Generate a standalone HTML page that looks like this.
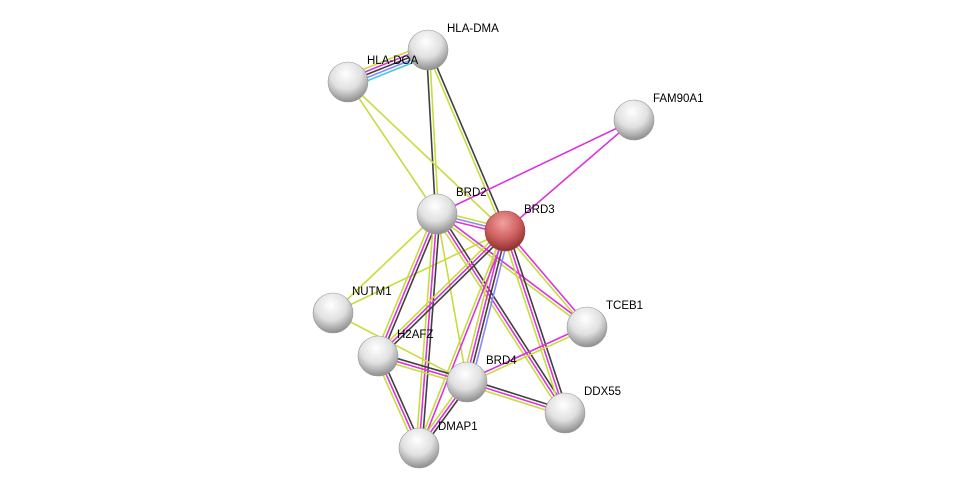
<!DOCTYPE html>
<html><head><meta charset="utf-8"><style>
html,body{margin:0;padding:0;background:#fff;width:975px;height:493px;overflow:hidden}
svg text{font-family:"Liberation Sans",sans-serif;font-size:11.5px;fill:#000}
</style></head><body>
<svg id="s" width="975" height="493" xmlns="http://www.w3.org/2000/svg">
<defs>
<radialGradient id="g" cx="45%" cy="30%" r="70%">
<stop offset="0" stop-color="#ffffff"/><stop offset="0.55" stop-color="#e0e0e0"/><stop offset="1" stop-color="#8e8e8e"/></radialGradient>
<radialGradient id="r" cx="45%" cy="30%" r="70%">
<stop offset="0" stop-color="#f2a0a0"/><stop offset="0.55" stop-color="#d06262"/><stop offset="1" stop-color="#8e3030"/></radialGradient>
</defs>
<g id="e"></g><g id="n"></g>
</svg>
<script>
var N={DMA:[428,50,'HLA-DMA'],DOA:[348,82,'HLA-DOA'],FAM:[634,120,'FAM90A1'],BRD2:[437,214,'BRD2'],BRD3:[505,231,'BRD3'],NUT:[333,313,'NUTM1'],TCE:[587,327,'TCEB1'],H2A:[378,356,'H2AFZ'],BRD4:[467,382,'BRD4'],DDX:[565,413,'DDX55'],DMAP:[419,448,'DMAP1']};
var Y='#c8dc3c',K='#404040',M='#dd33dd',B='#8888ff',C='#44ccdd';
var E=[['DMA','DOA',[C,B,K,M,Y]],['DMA','BRD2',[Y,K]],['DMA','BRD3',[K,Y]],['DOA','BRD2',[Y]],['DOA','BRD3',[Y]],['FAM','BRD2',[M]],['FAM','BRD3',[M]],['BRD2','BRD3',[Y,B,M]],['BRD2','NUT',[Y]],['BRD3','NUT',[Y]],['BRD2','H2A',[K,M,Y]],['BRD2','DMAP',[K,M,Y]],['BRD2','BRD4',[Y]],['BRD2','DDX',[K,M,Y]],['BRD2','TCE',[M,Y]],['BRD3','TCE',[M,Y]],['BRD3','H2A',[K,M,Y]],['BRD3','BRD4',[B,K,M,Y]],['BRD3','DMAP',[M,Y]],['BRD3','DDX',[K,M,Y]],['NUT','BRD4',[Y]],['H2A','BRD4',[K,M,Y]],['H2A','DMAP',[K,M,Y]],['BRD4','DMAP',[K,M,Y]],['BRD4','DDX',[K,M,Y]],['BRD4','TCE',[M,Y]]];
var ns='http://www.w3.org/2000/svg',ge=document.getElementById('e'),gn=document.getElementById('n');
E.forEach(function(e){var a=N[e[0]],b=N[e[1]],dx=b[0]-a[0],dy=b[1]-a[1],L=Math.hypot(dx,dy),px=-dy/L,py=dx/L,n=e[2].length;
e[2].forEach(function(c,i){var o=(i-(n-1)/2)*3,l=document.createElementNS(ns,'line');
l.setAttribute('x1',a[0]+px*o);l.setAttribute('y1',a[1]+py*o);l.setAttribute('x2',b[0]+px*o);l.setAttribute('y2',b[1]+py*o);
l.setAttribute('stroke',c);l.setAttribute('stroke-width','1.6');ge.appendChild(l);});});
for(var k in N){var p=N[k],c=document.createElementNS(ns,'circle');c.setAttribute('cx',p[0]);c.setAttribute('cy',p[1]);c.setAttribute('r',20);
c.setAttribute('fill',k=='BRD3'?'url(#r)':'url(#g)');c.setAttribute('stroke',k=='BRD3'?'#a04040':'#999');c.setAttribute('stroke-width','0.6');gn.appendChild(c);
var t=document.createElementNS(ns,'text');t.setAttribute('x',p[0]+19);t.setAttribute('y',p[1]-18);t.textContent=p[2];gn.appendChild(t);}
</script>
</body></html>
